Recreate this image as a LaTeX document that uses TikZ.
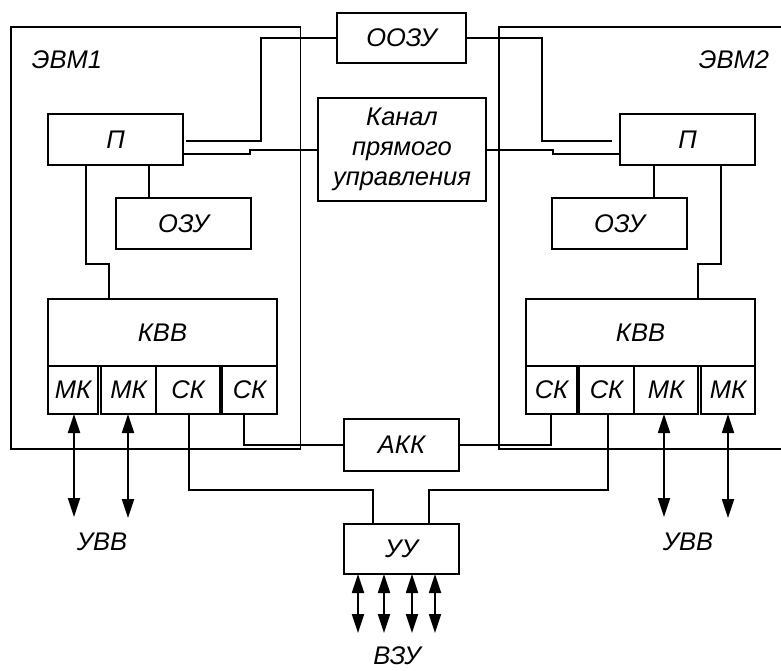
\documentclass[tikz,border=0pt]{standalone}
\usepackage{fontspec}
\setmainfont{Liberation Sans}
\usepackage{tikz}
\usetikzlibrary{positioning,arrows.meta}
\newcommand{\fs}{\fontsize{25.5}{30}\selectfont\itshape}
\tikzset{
  blk/.style   = {rectangle, draw, line width=1.8pt, inner sep=0pt, outer sep=0pt,
                  align=center, font=\fs},
  port/.style  = {blk, minimum height=48pt},
  frame/.style = {line width=1.8pt},
  link/.style  = {line width=1.8pt},
  io/.style    = {{Triangle[length=19pt,width=12pt]}-{Triangle[length=19pt,width=12pt]},
                  line width=1.8pt},
  txt/.style   = {font=\fs, inner sep=0pt},
}

\begin{document}
\begin{tikzpicture}[x=1pt,y=-1pt]
  \useasboundingbox (0,0) rectangle (781,671);
  \draw[frame] (11,27) rectangle (300.5,449);
  \draw[frame] (781,27) -| (499,449) -- (781,449);
  \node[txt] (evm1) at (67,60) {ЭВМ1};
  \node[txt] (evm2) at (734,60) {ЭВМ2};

  \node[blk, minimum width=129pt, minimum height=50pt] (oozu) at (401.5,38) {ООЗУ};
  \node[blk, minimum width=168pt, minimum height=103pt] (kanal) at (402,149.5) {Канал\\прямого\\управления};
  \node[blk, minimum width=115pt, minimum height=52pt] (akk) at (401.5,445) {АКК};
  \node[blk, minimum width=115pt, minimum height=50pt] (uu) at (401.5,549) {УУ};
  \node[txt] (vzu) at (397,656) {ВЗУ};

  \node[blk, minimum width=135pt, minimum height=51pt] (p1) at (115.5,139.5) {П};
  \node[blk, minimum width=135pt, minimum height=51pt] (ozu1) at (183.5,223.5) {ОЗУ};
  \node[blk, minimum width=229pt, minimum height=67pt] (kvv1) at (162.5,332.5) {КВВ};
  \node[port, minimum width=50pt, below right=0pt and 0pt of kvv1.south west] (mk11) {МК};
  \node[port, minimum width=55pt, right=3pt of mk11] (mk12) {МК};
  \node[port, minimum width=64pt, right=0pt of mk12] (sk11) {СК};
  \node[port, minimum width=55pt, right=2pt of sk11] (sk12) {СК};
  \node[txt] (uvv1) at (102,542) {УВВ};

  \node[blk, minimum width=135pt, minimum height=51pt] (p2) at (687.5,139.5) {П};
  \node[blk, minimum width=135pt, minimum height=51pt] (ozu2) at (619.5,223.5) {ОЗУ};
  \node[blk, minimum width=229pt, minimum height=67pt] (kvv2) at (640.5,332.5) {КВВ};
  \node[port, minimum width=51pt, below right=0pt and 0pt of kvv2.south west] (sk21) {СК};
  \node[port, minimum width=55pt, right=2pt of sk21] (sk22) {СК};
  \node[port, minimum width=64pt, right=0pt of sk22] (mk21) {МК};
  \node[port, minimum width=54pt, right=3pt of mk21] (mk22) {МК};
  \node[txt] (uvv2) at (688,542) {УВВ};

  \draw[link, shorten >=3pt] (oozu.west) -| (261,141) -- (p1.east |- 0,141);
  \draw[link] (kanal.west |- 0,150) -- (250,150) -- (250,154) -- (p1.east |- 0,154);
  \draw[link] (p1.south -| 149,0) -- (ozu1.north -| 149,0);
  \draw[link] (p1.south -| 86,0) |- (109,264) -- (kvv1.north -| 109,0);
  \draw[link] (sk12.south -| 244,0) |- (akk.west);
  \draw[link] (sk11.south -| 189,0) |- (373,490) -- (uu.north -| 373,0);
  \draw[io] (mk11.south -| 74,0) -- (74,517);
  \draw[io] (mk12.south -| 128,0) -- (128,518);

  \draw[link, shorten >=8pt] (oozu.east) -| (542,141) -- (p2.west |- 0,141);
  \draw[link] (kanal.east |- 0,150) -- (553,150) -- (553,154) -- (p2.west |- 0,154);
  \draw[link] (p2.south -| 654,0) -- (ozu2.north -| 654,0);
  \draw[link] (p2.south -| 721,0) |- (698,264) -- (kvv2.north -| 698,0);
  \draw[link] (sk21.south -| 551,0) |- (akk.east);
  \draw[link] (sk22.south -| 608,0) |- (429,490) -- (uu.north -| 429,0);
  \draw[io] (mk21.south -| 664,0) -- (664,517);
  \draw[io] (mk22.south -| 728,0) -- (728,518);

  \foreach \x in {358,384,412,435}
    \draw[io] (uu.south -| \x,0) -- (\x,633);
\end{tikzpicture}
\end{document}
